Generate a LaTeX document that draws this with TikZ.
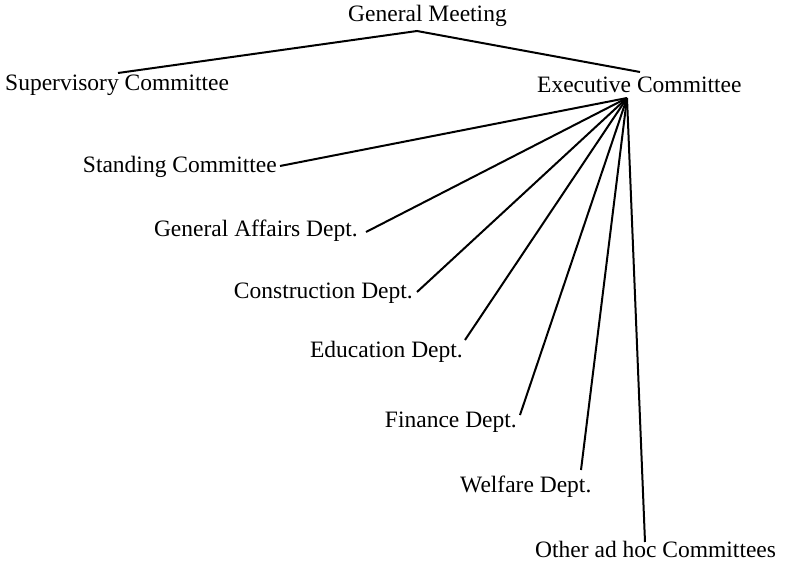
\documentclass[tikz,border=0pt]{standalone}
\usepackage{fontspec}
\setmainfont{Liberation Serif}
\usetikzlibrary{calc}

\tikzset{
  unit/.style={font=\fontsize{23.5}{28}\selectfont, inner sep=0pt},
  link/.style={line width=2pt, black},
}

\begin{document}
\begin{tikzpicture}[x=1pt, y=-1pt]
  \useasboundingbox (0,0) rectangle (785,565);

  % top level
  \node[unit, anchor=base west] (gm)  at (348,21) {General Meeting};
  \node[unit, anchor=base west] (sup) at (5,90)   {Supervisory Committee};
  \node[unit, anchor=base west] (exe) at (537,92) {Executive Committee};

  % bodies under the executive committee
  \node[unit, anchor=base east] (std) at (277,172) {Standing Committee};
  \node[unit, anchor=base east] (gad) at (358,236) {General Affairs Dept.};
  \node[unit, anchor=base east] (con) at (413,298) {Construction Dept.};
  \node[unit, anchor=base east] (edu) at (463,357) {Education Dept.};
  \node[unit, anchor=base east] (fin) at (517,427) {Finance Dept.};
  \node[unit, anchor=base west] (wel) at (460,492) {Welfare Dept.};
  \node[unit, anchor=base west] (oth) at (535,557) {Other ad hoc Committees};

  % attachment points
  \coordinate (apex)  at ($(gm.base west)+(69,10)$);
  \coordinate (supT)  at ($(sup.base west)+(113,-17)$);
  \coordinate (exeT)  at ($(exe.base west)+(103,-20)$);
  \coordinate (hub)   at ($(exe.base west)+(90,6)$);
  \coordinate (stdE)  at ($(std.base east)+(3,-6)$);
  \coordinate (gadE)  at ($(gad.base east)+(8,-4)$);
  \coordinate (conE)  at ($(con.base east)+(4,-6)$);
  \coordinate (eduE)  at ($(edu.base east)+(2,-17)$);
  \coordinate (finE)  at ($(fin.base east)+(3,-12)$);
  \coordinate (welT)  at ($(wel.base west)+(121,-22)$);
  \coordinate (othT)  at ($(oth.base west)+(110,-15)$);

  % connectors
  \draw[link] (supT) -- (apex) -- (exeT);
  \foreach \e in {stdE,gadE,conE,eduE,finE,welT,othT}
    \draw[link] (hub) -- (\e);
\end{tikzpicture}
\end{document}
